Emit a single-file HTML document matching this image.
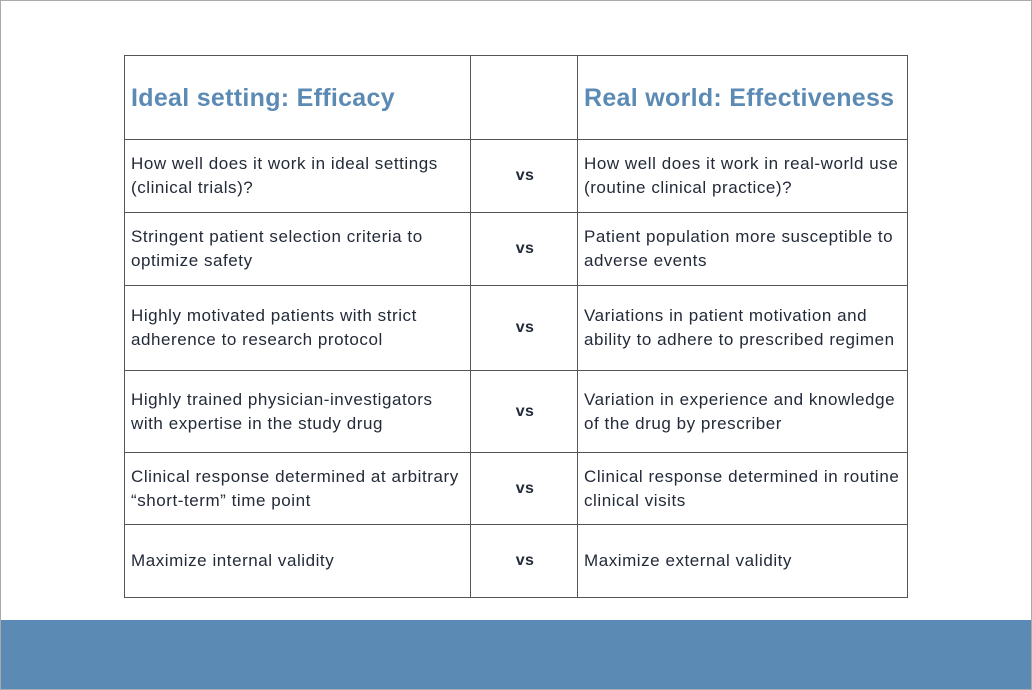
<!DOCTYPE html>
<html><head><meta charset="utf-8"><style>
html,body{margin:0;padding:0}
body{width:1032px;height:690px;position:relative;background:#fff;overflow:hidden;font-family:"Liberation Sans",sans-serif}
#frame{position:absolute;left:0;top:0;width:1030px;height:688px;border:1px solid #aaa}
#band{position:absolute;left:1px;top:620px;width:1030px;height:69px;background:#5b8ab4}
table{position:absolute;left:124px;top:55px;border-collapse:collapse;table-layout:fixed}
td{border:1.5px solid #555;padding:0 4px 0 6px;color:#232a38;font-size:17px;line-height:24px;vertical-align:middle;letter-spacing:0.55px}
td.h{color:#5b8ab4;font-weight:bold;font-size:25px;letter-spacing:0.3px}
td.vs{text-align:center;font-weight:bold;font-size:16px;letter-spacing:0.3px}
</style></head><body>
<div id="frame"></div>
<table>
<colgroup><col style="width:346px"><col style="width:107px"><col style="width:330px"></colgroup>
<tr style="height:84px"><td class="h">Ideal setting: Efficacy</td><td></td><td class="h">Real world: Effectiveness</td></tr>
<tr style="height:73px"><td>How well does it work in ideal settings (clinical trials)?</td><td class="vs">vs</td><td>How well does it work in real-world use (routine clinical practice)?</td></tr>
<tr style="height:73px"><td>Stringent patient selection criteria to optimize safety</td><td class="vs">vs</td><td>Patient population more susceptible to adverse events</td></tr>
<tr style="height:85px"><td>Highly motivated patients with strict adherence to research protocol</td><td class="vs">vs</td><td>Variations in patient motivation and ability to adhere to prescribed regimen</td></tr>
<tr style="height:82px"><td>Highly trained physician-investigators with expertise in the study drug</td><td class="vs">vs</td><td>Variation in experience and knowledge of the drug by prescriber</td></tr>
<tr style="height:72px"><td>Clinical response determined at arbitrary “short-term” time point</td><td class="vs">vs</td><td>Clinical response determined in routine clinical visits</td></tr>
<tr style="height:73px"><td>Maximize internal validity</td><td class="vs">vs</td><td>Maximize external validity</td></tr>
</table>
<div id="band"></div>
</body></html>
